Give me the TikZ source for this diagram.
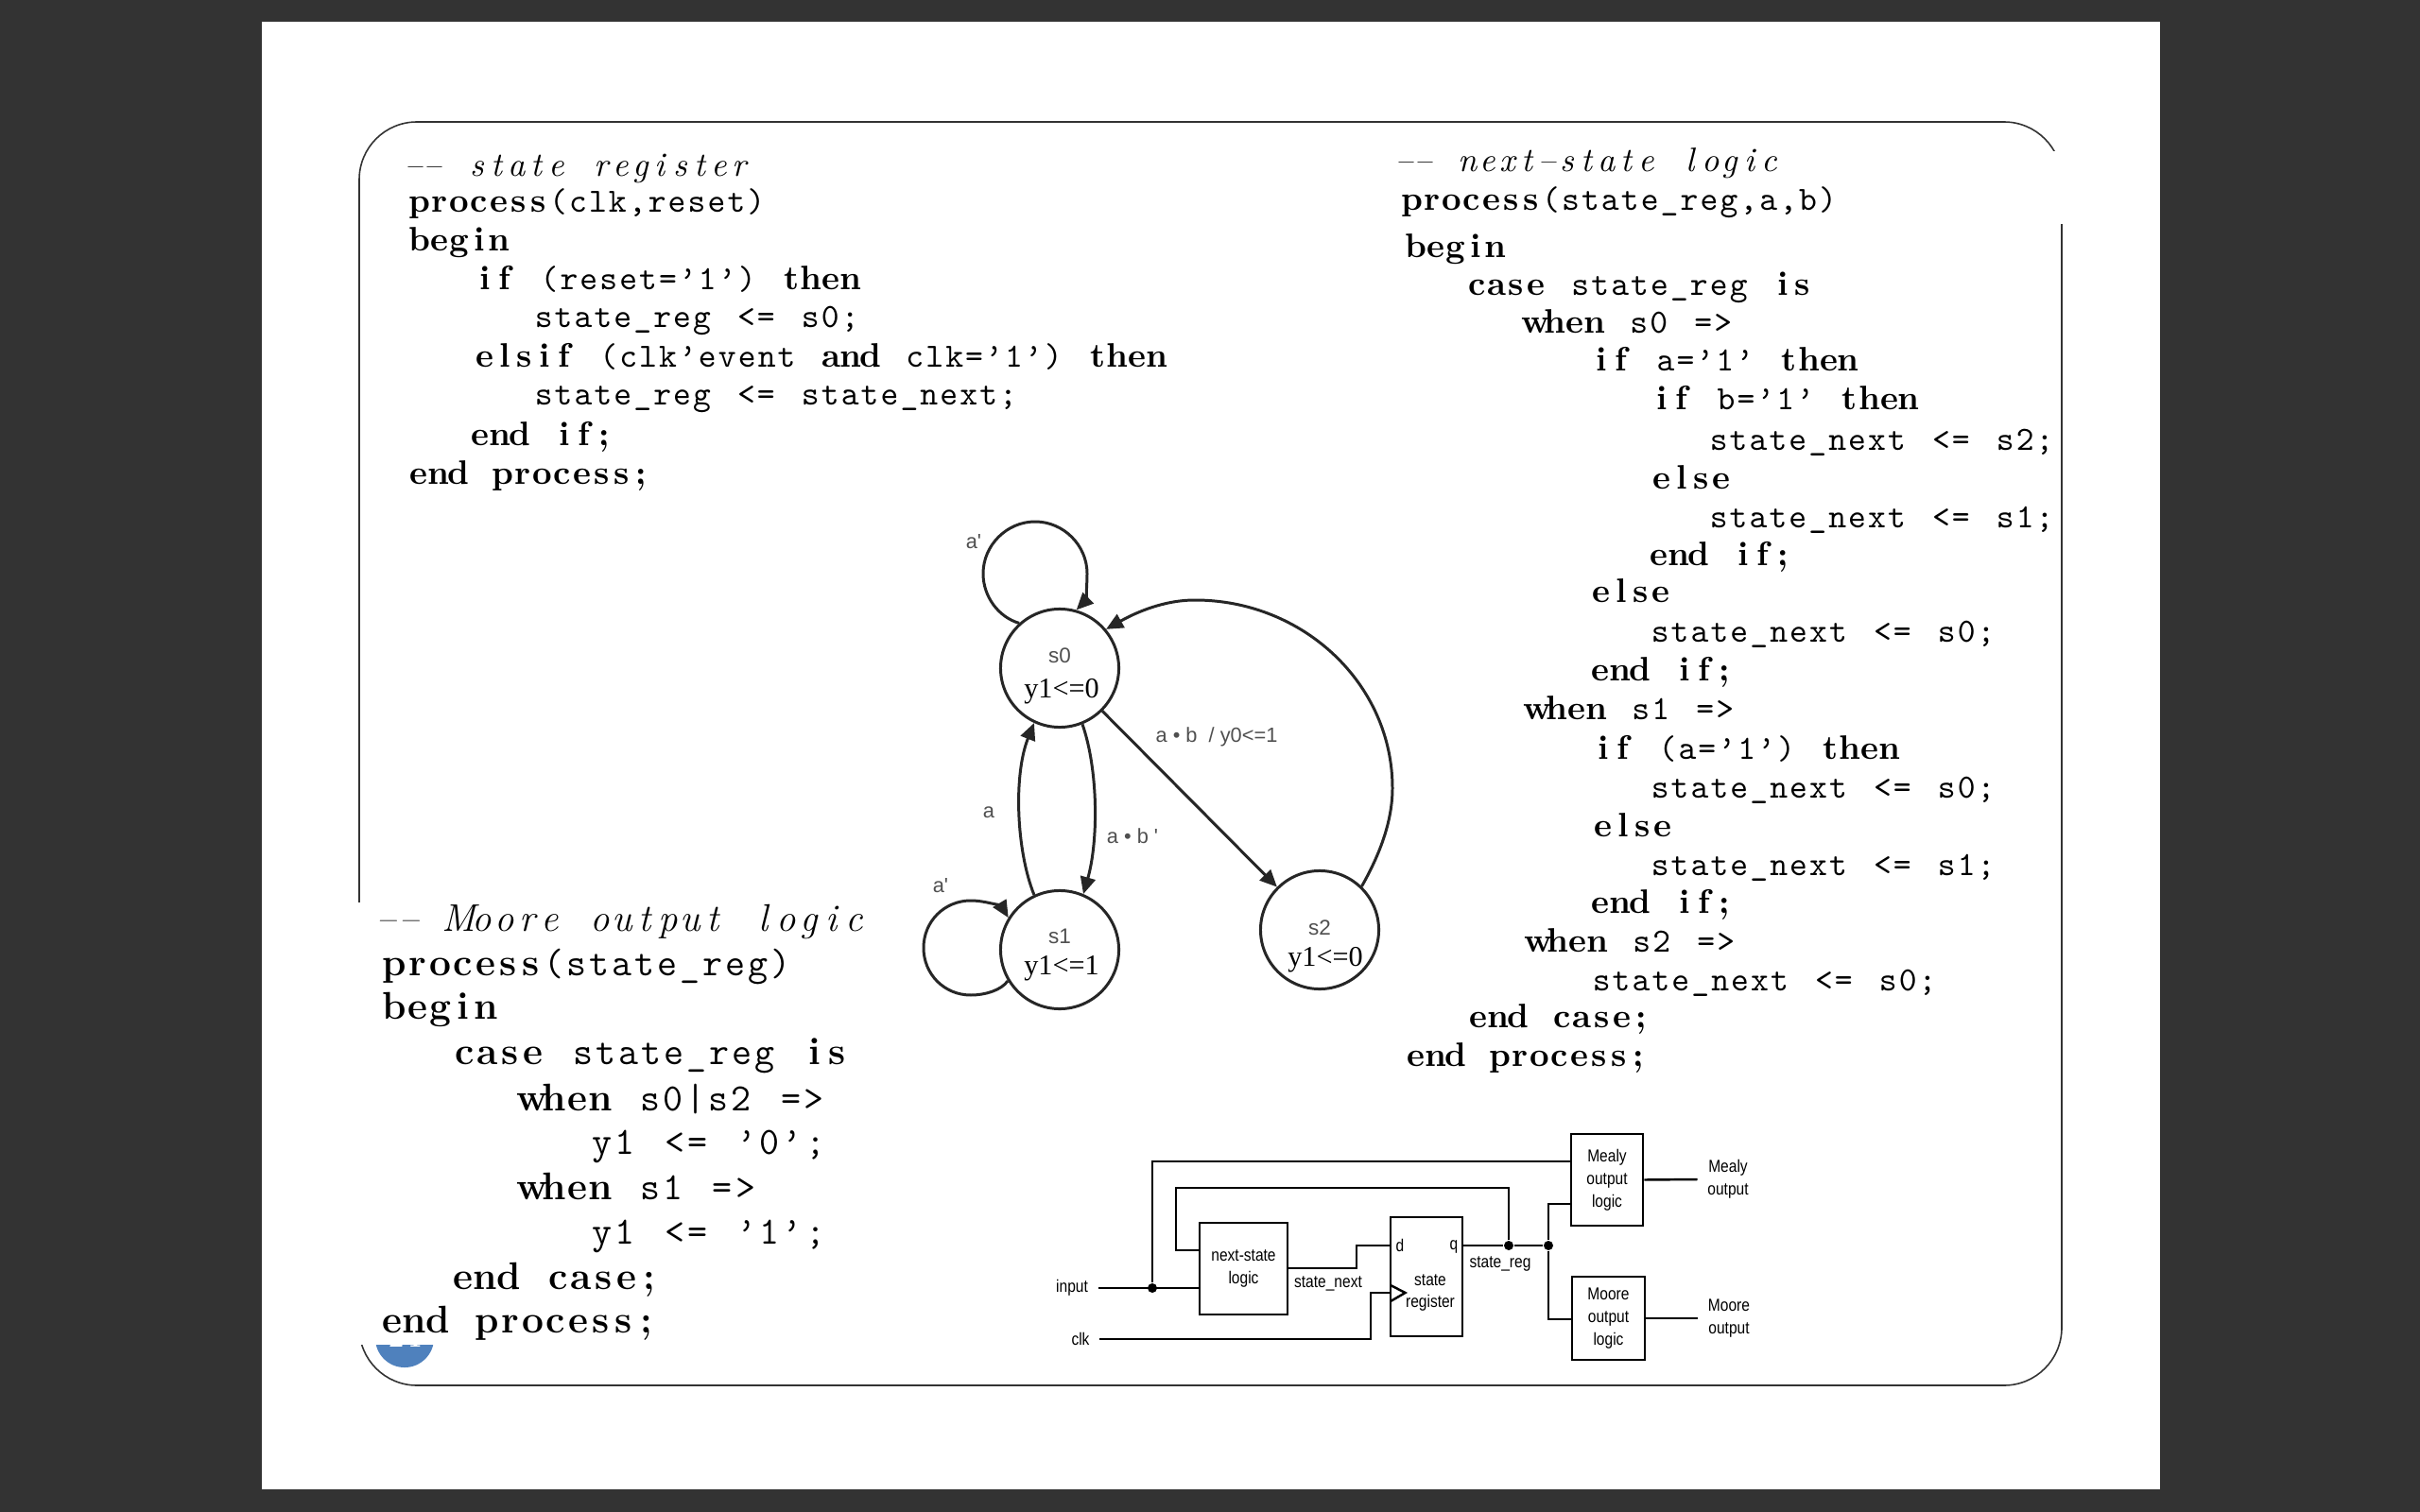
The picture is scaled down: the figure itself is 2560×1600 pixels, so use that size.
\documentclass[tikz,border=0pt]{standalone}
\usepackage{fontspec}
\usetikzlibrary{arrows.meta}
\newfontfamily\arialfont{Liberation Sans}
\newfontfamily\narrowfont[FakeStretch=0.85]{Liberation Sans}
\newfontfamily\timesfont{Liberation Serif}
\definecolor{deskgray}{HTML}{333333}
\definecolor{slideblue}{HTML}{4F81BD}
\definecolor{labelgray}{HTML}{505050}
\newlength\cellw
\def\cellrun#1{\ifx#1\relax\else\makebox[\cellw][c]{#1}\expandafter\cellrun\fi}
\def\cellsplit#1 #2\relax{\cellrun#1\relax\ifx\relax#2\relax\else\hskip\spaceskip\cellsplit#2\relax\fi}
\newcommand\cells[1]{\cellsplit#1 \relax}
\newcommand\kw[1]{{\rmfamily\bfseries\cells{#1}}}
\newcommand\cd[1]{{\ttfamily\cells{#1}}}
\newcommand\cm[1]{{\rmfamily\itshape\cells{#1}}}
\newcommand\codesmall{\setlength\cellw{5.95pt}\spaceskip=7.4pt\frenchspacing\fontsize{10.2}{12}\selectfont}
\newcommand\codelarge{\setlength\cellw{6.83pt}\spaceskip=8.2pt\frenchspacing\fontsize{11.6}{14}\selectfont}
\tikzset{
  codeline/.style={anchor=base west,inner sep=0pt,font=\codesmall},
  mooreline/.style={anchor=base west,inner sep=0pt,font=\codelarge},
  statecirc/.style={circle,draw=black!85,line width=0.85pt,minimum size=1.25cm,inner sep=0pt},
  statename/.style={inner sep=0pt,text=labelgray,font=\arialfont\fontsize{6.4}{8}\selectfont},
  stateout/.style={inner sep=0pt,font=\timesfont\fontsize{8.6}{10}\selectfont},
  edgelabel/.style={inner sep=0pt,text=labelgray,font=\arialfont\fontsize{6.2}{8}\selectfont},
  trans/.style={-{Triangle[length=0.18cm,width=0.16cm]},draw=black!85,line width=0.85pt},
  blockbox/.style={draw,line width=0.7pt,inner sep=0pt,align=center,font=\narrowfont\fontsize{5.2}{6.8}\selectfont},
  wirelabel/.style={inner sep=0.1cm,align=center,font=\narrowfont\fontsize{5.2}{6.8}\selectfont},
  wire/.style={line width=0.7pt},
  junction/.style={circle,fill,inner sep=0pt,minimum size=0.1cm}
}
\begin{document}
\begin{tikzpicture}[x=0.01cm,y=-0.01cm]
  \useasboundingbox (0,0) rectangle (2560,1600);
  \fill[deskgray] (0,0) rectangle (2560,1600);
  \fill[white] (277,23) rectangle (2285,1576);
  \draw[black!80,line width=0.45pt,rounded corners=0.61cm] (380,129) rectangle (2181,1466);
  \node[circle,fill=slideblue,minimum size=0.62cm,inner sep=0pt,text=white,font=\bfseries\fontsize{8}{9}\selectfont] (slidenum) at (428,1416) {24};
  \fill[white] (370,955) rectangle (960,1423);
  \fill[white] (2100,160) rectangle (2190,237);

  \node[codeline] (reg0) at (426,186) {\cm{–– state register}};
  \node[codeline] (reg1) at (433,225) {\kw{process}\cd{(clk,reset)}};
  \node[codeline] (reg2) at (433,265) {\kw{begin}};
  \node[codeline] (reg3) at (502,307) {\kw{if} \cd{(reset=’1’)} \kw{then}};
  \node[codeline] (reg4) at (564,347) {\cd{state\_reg <= s0;}};
  \node[codeline] (reg5) at (502,388) {\kw{elsif} \cd{(clk’event} \kw{and} \cd{clk=’1’)} \kw{then}};
  \node[codeline] (reg6) at (564,429) {\cd{state\_reg <= state\_next;}};
  \node[codeline] (reg7) at (497,471) {\kw{end if;}};
  \node[codeline] (reg8) at (432,512) {\kw{end process;}};

  \node[codeline] (nxt0) at (1474,182) {\cm{–– next–state logic}};
  \node[codeline] (nxt1) at (1483,223) {\kw{process}\cd{(state\_reg,a,b)}};
  \node[codeline] (nxt2) at (1487,272) {\kw{begin}};
  \node[codeline] (nxt3) at (1551,313) {\kw{case} \cd{state\_reg} \kw{is}};
  \node[codeline] (nxt4) at (1613,353) {\kw{when} \cd{s0 =>}};
  \node[codeline] (nxt5) at (1683,393) {\kw{if} \cd{a=’1’} \kw{then}};
  \node[codeline] (nxt6) at (1747,433) {\kw{if} \cd{b=’1’} \kw{then}};
  \node[codeline] (nxt7) at (1807,476) {\cd{state\_next <= s2;}};
  \node[codeline] (nxt8) at (1747,517) {\kw{else}};
  \node[codeline] (nxt9) at (1807,558) {\cd{state\_next <= s1;}};
  \node[codeline] (nxt10) at (1744,598) {\kw{end if;}};
  \node[codeline] (nxt11) at (1683,637) {\kw{else}};
  \node[codeline] (nxt12) at (1745,679) {\cd{state\_next <= s0;}};
  \node[codeline] (nxt13) at (1682,720) {\kw{end if;}};
  \node[codeline] (nxt14) at (1615,761) {\kw{when} \cd{s1 =>}};
  \node[codeline] (nxt15) at (1685,803) {\kw{if} \cd{(a=’1’)} \kw{then}};
  \node[codeline] (nxt16) at (1745,844) {\cd{state\_next <= s0;}};
  \node[codeline] (nxt17) at (1685,885) {\kw{else}};
  \node[codeline] (nxt18) at (1745,926) {\cd{state\_next <= s1;}};
  \node[codeline] (nxt19) at (1682,966) {\kw{end if;}};
  \node[codeline] (nxt20) at (1616,1007) {\kw{when} \cd{s2 =>}};
  \node[codeline] (nxt21) at (1683,1048) {\cd{state\_next <= s0;}};
  \node[codeline] (nxt22) at (1553,1087) {\kw{end case;}};
  \node[codeline] (nxt23) at (1487,1128) {\kw{end process;}};

  \node[mooreline] (out0) at (396,985) {\cm{–– Moore output logic}};
  \node[mooreline] (out1) at (405,1032) {\kw{process}\cd{(state\_reg)}};
  \node[mooreline] (out2) at (405,1078) {\kw{begin}};
  \node[mooreline] (out3) at (479,1126) {\kw{case} \cd{state\_reg} \kw{is}};
  \node[mooreline] (out4) at (550,1175) {\kw{when} \cd{s0|s2 =>}};
  \node[mooreline] (out5) at (624,1221) {\cd{y1 <= ’0’;}};
  \node[mooreline] (out6) at (550,1269) {\kw{when} \cd{s1 =>}};
  \node[mooreline] (out7) at (624,1316) {\cd{y1 <= ’1’;}};
  \node[mooreline] (out8) at (477,1364) {\kw{end case;}};
  \node[mooreline] (out9) at (402,1410) {\kw{end process;}};

  \node[statecirc] (s0) at (1121,707) {};
  \node[statecirc] (s1) at (1121,1005) {};
  \node[statecirc] (s2) at (1396,984) {};
  \node[statename] (s0name) at (1121,694) {s0};
  \node[stateout] (s0out) at (1123,732) {y1<=0};
  \node[statename] (s1name) at (1121,991) {s1};
  \node[stateout] (s1out) at (1123,1025) {y1<=1};
  \node[statename] (s2name) at (1396,982) {s2};
  \node[stateout] (s2out) at (1402,1016) {y1<=0};
  \draw[trans] (s0.132) .. controls (1056,653) and (1040,631) .. (1040,607)
    .. controls (1040,577) and (1065,552) .. (1095,552)
    .. controls (1125,552) and (1150,577) .. (1150,607)
    .. controls (1150,620) and (1148,636) .. (s0.74);
  \draw[trans] (s1.211) .. controls (1059,1048) and (1042,1053) .. (1027,1053)
    .. controls (999,1053) and (977,1031) .. (977,1003)
    .. controls (977,975) and (999,953) .. (1027,953)
    .. controls (1043,953) and (1060,960) .. (s1.148);
  \draw[trans] (s1.115) .. controls (1075,900) and (1072,820) .. (s0.245);
  \draw[trans] (s0.292) .. controls (1162,815) and (1162,890) .. (s1.67);
  \draw[trans] (s0) -- (s2);
  \draw[trans] (s2.46) .. controls (1458,907) and (1473,871) .. (1473,834)
    .. controls (1473,724) and (1379,635) .. (1264,635)
    .. controls (1230,635) and (1200,649) .. (s0.40);
  \node[edgelabel] (loop0) at (1030,573) {a'};
  \node[edgelabel] (loop1) at (995,937) {a'};
  \node[edgelabel] (back10) at (1046,860) {a};
  \node[edgelabel] (go01) at (1198,885) {a • b '};
  \node[edgelabel] (go02) at (1287,780) {a • b \ / y0<=1};

  \node[blockbox,minimum width=0.93cm,minimum height=0.97cm] (nextbox) at (1315.5,1342.5) {next-state\\logic};
  \node[blockbox,minimum width=0.76cm,minimum height=1.26cm] (regbox) at (1509,1351) {};
  \node[blockbox,minimum width=0.76cm,minimum height=0.97cm] (mealybox) at (1700,1248.5) {Mealy\\output\\logic};
  \node[blockbox,minimum width=0.77cm,minimum height=0.88cm] (moorebox) at (1701.5,1395) {Moore\\output\\logic};
  \node[wirelabel] (regtext) at (1513,1368) {state\\register};
  \node[wirelabel,inner sep=0pt] (dpin) at (1481,1318) {d};
  \node[wirelabel,inner sep=0pt] (qpin) at (1538,1319) {q};
  \node[wirelabel] (inlabel) at (1134,1363) {input};
  \node[wirelabel] (clklabel) at (1143,1417) {clk};
  \node[wirelabel,inner sep=0pt] (nextlabel) at (1405,1358) {state\_next};
  \node[wirelabel,inner sep=0pt] (reglabel) at (1587,1337) {state\_reg};
  \node[wirelabel] (mealyout) at (1828,1248) {Mealy\\output};
  \node[wirelabel] (mooreout) at (1829,1395) {Moore\\output};
  \node[junction] (j1) at (1219,1363) {};
  \node[junction] (j2) at (1596,1318) {};
  \node[junction] (j3) at (1638,1318) {};
  \coordinate (mealyin) at (1662,1229);
  \coordinate (mealyst) at (1662,1274);
  \coordinate (moorein) at (1663,1396);
  \coordinate (fbin) at (1269,1323);
  \coordinate (nsout) at (1362,1342);
  \coordinate (regd) at (1471,1318);
  \coordinate (regq) at (1547,1318);
  \coordinate (clkpin) at (1471,1368);
  \draw[wire] (inlabel.east |- j1) -- (nextbox.west |- j1);
  \draw[wire] (j1) |- (mealyin);
  \draw[wire] (j2) |- (1244,1257) |- (fbin);
  \draw[wire] (nsout) -| (1435,1318) -- (regd);
  \draw[wire] (regq) -- (j2) -- (j3);
  \draw[wire] (j3) |- (mealyst);
  \draw[wire] (j3) |- (moorein);
  \draw[wire] (clklabel.east) -| (1450,1368) -- (clkpin);
  \draw[wire] (1471,1360) -- (1486.5,1368) -- (1471,1377);
  \draw[wire] (mealybox.east) -- (mealyout.west);
  \draw[wire] (moorebox.east) -- (mooreout.west);
\end{tikzpicture}
\end{document}
